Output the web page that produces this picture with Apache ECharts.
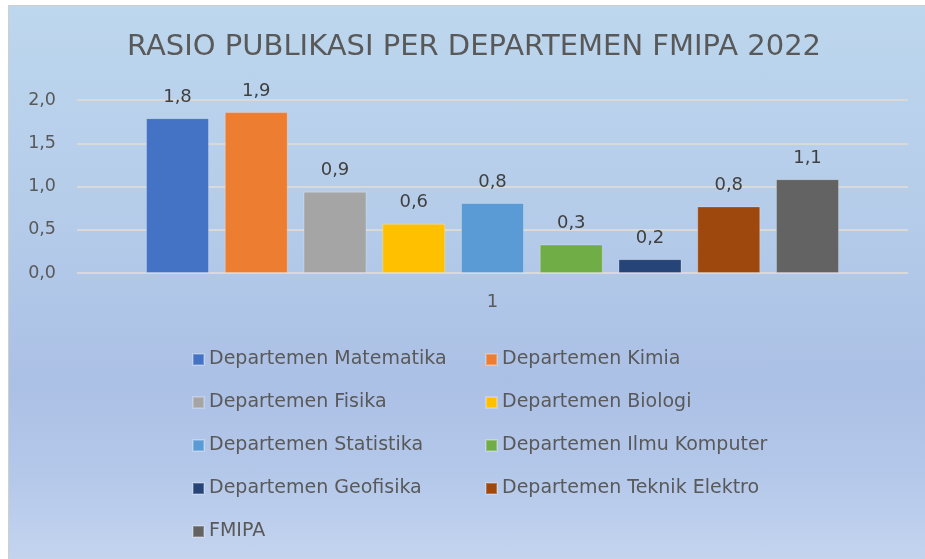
<!DOCTYPE html>
<html>
<head>
<meta charset="utf-8">
<script src="https://cdn.jsdelivr.net/npm/echarts@6/dist/echarts.min.js"></script>
<style>
  html, body { margin: 0; padding: 0; background: #ffffff; }
  #bg { position: absolute; left: 8px; top: 5px; width: 917px; height: 554px;
        border-left: 1px solid #cfcfcf; border-top: 1px solid #cfcfcf; box-sizing: border-box;
        background: linear-gradient(to bottom, #BDD7EE 0%, #B6CDEA 35%, #ABC0E5 68%, #B4C8EA 85%, #C4D4EF 100%); }
  #chart { position: absolute; left: 0; top: 0; width: 925px; height: 559px; }
</style>
</head>
<body>
<div id="bg"></div>
<div id="chart"></div>
<script>
const titleText = "RASIO PUBLIKASI PER DEPARTEMEN FMIPA 2022";
const categories = ["1"];
const seriesNames = [
  "Departemen Matematika", "Departemen Kimia", "Departemen Fisika", "Departemen Biologi",
  "Departemen Statistika", "Departemen Ilmu Komputer", "Departemen Geofisika",
  "Departemen Teknik Elektro", "FMIPA"
];
const seriesValues = [1.79, 1.86, 0.94, 0.57, 0.81, 0.33, 0.16, 0.77, 1.085];
const seriesColors = ["#4472C4", "#ED7D31", "#A5A5A5", "#FFC000", "#5B9BD5", "#70AD47", "#264478", "#9E480E", "#636363"];
const yTicks = [0, 0.5, 1.0, 1.5, 2.0];

const FONT = "DejaVu Sans";
const TXT = "#595959";
const fmt = v => v.toFixed(1).replace(".", ",");

const chart = echarts.init(document.getElementById("chart"), null, { renderer: "canvas" });
chart.setOption({
  backgroundColor: "transparent",
  animation: false,
  title: {
    text: titleText, left: 122, top: 28,
    textStyle: { fontFamily: FONT, fontSize: 29, fontWeight: "normal", color: TXT }
  },
  legend: [
    {
      data: seriesNames.filter((_, i) => i % 2 === 0),
      orient: "vertical", left: 187, top: 345, itemGap: 24, itemWidth: 11, itemHeight: 11,
      icon: "rect", textStyle: { fontFamily: FONT, fontSize: 19, color: TXT }
    },
    {
      data: seriesNames.filter((_, i) => i % 2 === 1),
      orient: "vertical", left: 480, top: 345, itemGap: 24, itemWidth: 11, itemHeight: 11,
      icon: "rect", textStyle: { fontFamily: FONT, fontSize: 19, color: TXT }
    }
  ],
  grid: { left: 77, right: 17, top: 100, bottom: 286, containLabel: false },
  xAxis: {
    type: "category", data: categories,
    axisLine: { show: false }, axisTick: { show: false },
    axisLabel: { fontFamily: FONT, fontSize: 18, color: TXT, margin: 20 }
  },
  yAxis: {
    type: "value", min: yTicks[0], max: yTicks[yTicks.length - 1], interval: 0.5,
    axisLine: { show: false }, axisTick: { show: false },
    axisLabel: { fontFamily: FONT, fontSize: 17.5, color: TXT, margin: 21, formatter: v => fmt(v) },
    splitLine: { lineStyle: { color: "#D9D9D9", width: 2 } }
  },
  series: seriesNames.map((name, i) => ({
    name: name, type: "bar", data: [seriesValues[i]],
    barWidth: 63, barGap: "25%",
    itemStyle: { color: seriesColors[i], borderColor: "rgba(255,255,255,0.25)", borderWidth: 1 },
    label: {
      show: true, position: "top", distance: 12,
      fontFamily: FONT, fontSize: 18, color: "#404040",
      formatter: p => fmt(p.value)
    }
  }))
});
</script>
</body>
</html>
